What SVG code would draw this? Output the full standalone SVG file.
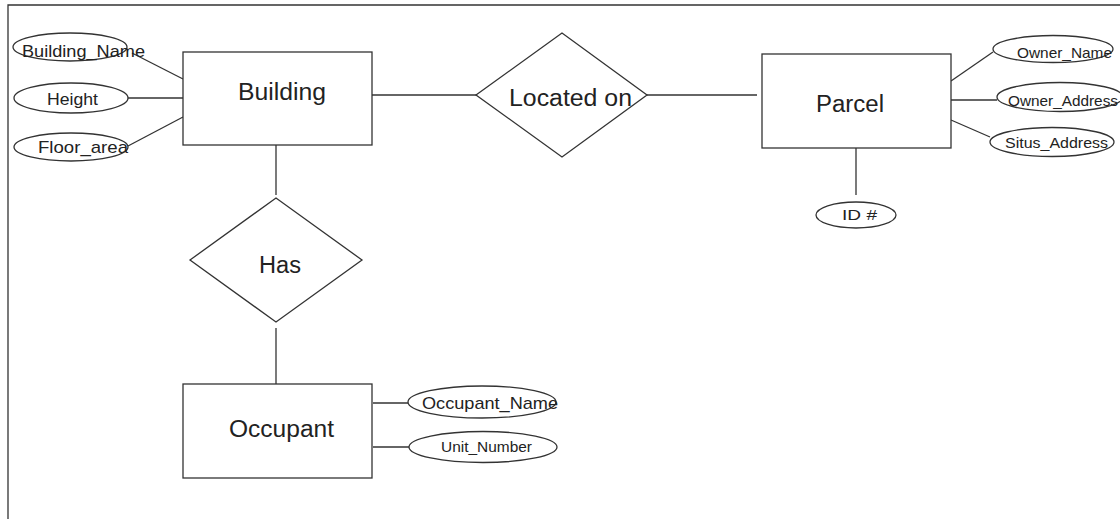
<svg xmlns="http://www.w3.org/2000/svg" width="1120" height="519" viewBox="0 0 1120 519">
<style>
.sh{fill:#fff;stroke:#333;stroke-width:1.3}
.ln{stroke:#333;stroke-width:1.3;fill:none}
.t{font-family:"Liberation Sans",Arial,sans-serif;fill:#222}
.big{font-size:23px}
.att{font-size:17px}
.sm{font-size:15px}
</style>
<rect x="0" y="0" width="1120" height="519" fill="#fff"/>
<path class="ln" d="M8,519 V5 H1120"/>
<g id="connectors">
<line class="ln" x1="132" y1="53" x2="183" y2="79"/>
<line class="ln" x1="128" y1="98" x2="183" y2="98"/>
<line class="ln" x1="128" y1="146" x2="183" y2="117"/>
<line class="ln" x1="372" y1="95" x2="476" y2="95"/>
<line class="ln" x1="647" y1="95" x2="757" y2="95"/>
<line class="ln" x1="951" y1="81" x2="993" y2="52"/>
<line class="ln" x1="951" y1="100" x2="997" y2="100"/>
<line class="ln" x1="951" y1="120" x2="990" y2="137"/>
<line class="ln" x1="856" y1="148" x2="856" y2="195"/>
<line class="ln" x1="276" y1="145" x2="276" y2="195"/>
<line class="ln" x1="276" y1="328" x2="276" y2="384"/>
<line class="ln" x1="373" y1="403" x2="408" y2="403"/>
<line class="ln" x1="373" y1="447" x2="409" y2="447"/>
</g>
<g id="building">
<rect class="sh" x="183" y="52" width="189" height="93"/>
<text class="t big" x="238" y="100" textLength="88" lengthAdjust="spacingAndGlyphs">Building</text>
</g>
<g id="building_name">
<ellipse class="sh" cx="70" cy="47" rx="57" ry="14"/>
<text class="t att" x="22" y="57" textLength="123" lengthAdjust="spacingAndGlyphs">Building_Name</text>
</g>
<g id="height">
<ellipse class="sh" cx="71" cy="98" rx="57" ry="15"/>
<text class="t att" x="47" y="105" textLength="51" lengthAdjust="spacingAndGlyphs">Height</text>
</g>
<g id="floor_area">
<ellipse class="sh" cx="71" cy="147" rx="57" ry="14"/>
<text class="t att" x="38" y="153" textLength="90" lengthAdjust="spacingAndGlyphs">Floor_area</text>
</g>
<g id="located_on">
<polygon class="sh" points="476,95 562,33 647,95 562,157"/>
<text class="t big" x="509" y="106" textLength="123" lengthAdjust="spacingAndGlyphs">Located on</text>
</g>
<g id="parcel">
<rect class="sh" x="762" y="54" width="189" height="94"/>
<text class="t big" x="816" y="112" textLength="68" lengthAdjust="spacingAndGlyphs">Parcel</text>
</g>
<g id="owner_name">
<ellipse class="sh" cx="1053" cy="49" rx="60" ry="13.5"/>
<text class="t sm" x="1017" y="58" textLength="95" lengthAdjust="spacingAndGlyphs">Owner_Name</text>
</g>
<g id="owner_address">
<ellipse class="sh" cx="1060" cy="97" rx="63" ry="14.5"/>
<text class="t sm" x="1008" y="106" textLength="110" lengthAdjust="spacingAndGlyphs">Owner_Address</text>
</g>
<g id="situs_address">
<ellipse class="sh" cx="1052" cy="142" rx="62" ry="14.5"/>
<text class="t sm" x="1005" y="148" textLength="103" lengthAdjust="spacingAndGlyphs">Situs_Address</text>
</g>
<g id="id">
<ellipse class="sh" cx="856" cy="215" rx="40" ry="13"/>
<text class="t sm" x="842" y="220" textLength="35" lengthAdjust="spacingAndGlyphs">ID #</text>
</g>
<g id="has">
<polygon class="sh" points="190,260 276,198 362,260 276,322"/>
<text class="t big" x="259" y="273" textLength="42" lengthAdjust="spacingAndGlyphs">Has</text>
</g>
<g id="occupant">
<rect class="sh" x="183" y="384" width="189" height="94"/>
<text class="t big" x="229" y="437" textLength="105" lengthAdjust="spacingAndGlyphs">Occupant</text>
</g>
<g id="occupant_name">
<ellipse class="sh" cx="482" cy="402" rx="74" ry="16"/>
<text class="t att" x="422" y="409" textLength="136" lengthAdjust="spacingAndGlyphs">Occupant_Name</text>
</g>
<g id="unit_number">
<ellipse class="sh" cx="483" cy="447" rx="74" ry="15.5"/>
<text class="t sm" x="441" y="452" textLength="91" lengthAdjust="spacingAndGlyphs">Unit_Number</text>
</g>
</svg>
